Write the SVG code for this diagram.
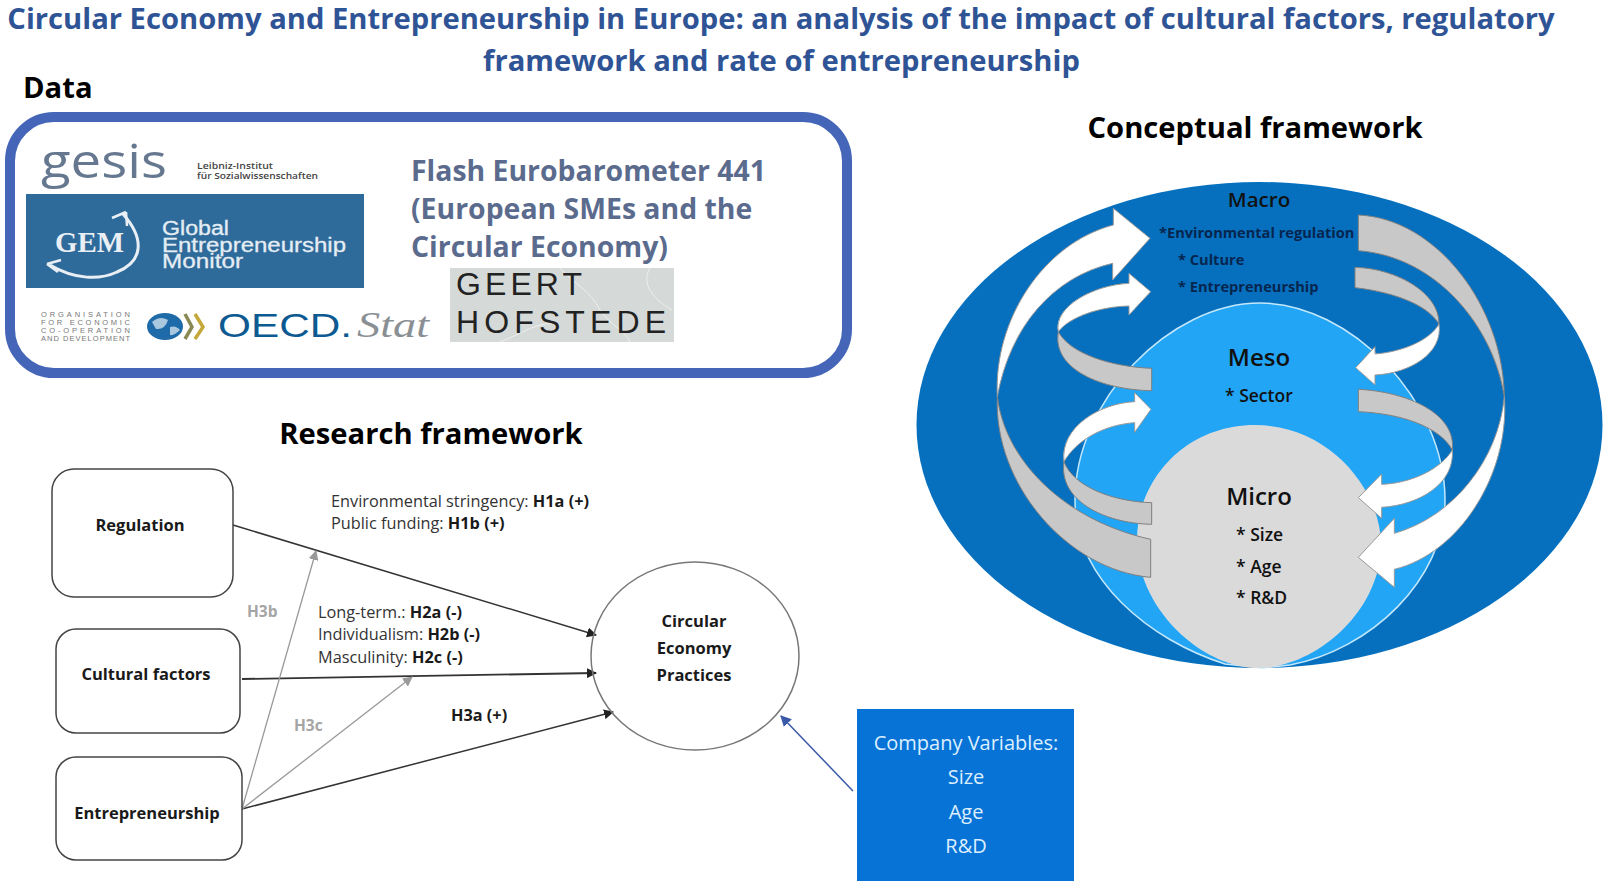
<svg xmlns="http://www.w3.org/2000/svg" width="1606" height="886" viewBox="0 0 1606 886">
<defs>
<marker id="ab" viewBox="0 0 10 10" refX="9" refY="5" markerWidth="10" markerHeight="10" markerUnits="userSpaceOnUse" orient="auto"><path d="M0,0L10,5L0,10Z" fill="#222"/></marker>
<marker id="ag" viewBox="0 0 10 10" refX="9" refY="5" markerWidth="10" markerHeight="10" markerUnits="userSpaceOnUse" orient="auto"><path d="M0,0L10,5L0,10Z" fill="#999"/></marker>
<marker id="ae" viewBox="0 0 10 10" refX="9" refY="5" markerWidth="11" markerHeight="11" markerUnits="userSpaceOnUse" orient="auto"><path d="M0,0L10,5L0,10Z" fill="#3a5aa8"/></marker>
</defs>
<style>
text{font-family:"Open Sans","Noto Sans","Liberation Sans",sans-serif}
.title{font-size:29.2px;font-weight:700;fill:#2f5496;text-anchor:middle}
.h{font-size:29.2px;font-weight:700;fill:#000}
.flash{font-size:28.4px;font-weight:700;fill:#5b6b8e}
.box{fill:#fff;stroke:#444;stroke-width:1.5}
.nt{font-size:16.5px;font-weight:700;fill:#1a1a1a;text-anchor:middle}
.lb{font-size:16.3px;fill:#333}
.lb tspan{font-weight:700;fill:#1a1a1a}
.gl{font-size:15.5px;font-weight:700;fill:#a5a5a5}
.w{fill:#fff;stroke:#999;stroke-width:1}
.g{fill:#c8c8c8;stroke:#808080;stroke-width:1}
.w,.g{vector-effect:non-scaling-stroke}
.big{font-size:24px;font-weight:600;fill:#111;text-anchor:middle}
.mac{font-size:14.6px;font-weight:700;fill:#07264f}
.sm{font-size:17.5px;font-weight:600;fill:#111}
.cv{font-size:20px;fill:#dcefff;text-anchor:middle}
.ar{font-family:"Liberation Sans",Arial,sans-serif}
.se{font-family:"Liberation Serif","Times New Roman",serif}
.gm{font-size:20px;fill:#e4edf4;stroke:#e4edf4;stroke-width:.3}
.oe{font-size:7.5px;fill:#777}
.gh{font-size:32px;fill:#222}
</style>
<rect width="1606" height="886" fill="#fff"/>
<text class="title" x="781" y="29">Circular Economy and Entrepreneurship in Europe: an analysis of the impact of cultural factors, regulatory</text>
<text class="title" x="781.5" y="71">framework and rate of entrepreneurship</text>
<text class="h" x="23" y="98">Data</text>
<text class="h" x="1255" y="138" text-anchor="middle">Conceptual framework</text>
<text class="h" x="431" y="444" text-anchor="middle">Research framework</text>

<g id="data-box">
<rect x="10" y="117" width="837" height="256" rx="44" fill="#fff" stroke="#4566b8" stroke-width="10"/>
<text x="41" y="178" font-size="47" fill="#667790" textLength="126" lengthAdjust="spacingAndGlyphs">gesis</text>
<text x="197" y="169" font-size="8.5" font-weight="600" fill="#444" textLength="76" lengthAdjust="spacingAndGlyphs">Leibniz-Institut</text>
<text x="197" y="179" font-size="8.5" font-weight="600" fill="#444" textLength="121" lengthAdjust="spacingAndGlyphs">für Sozialwissenschaften</text>
<rect x="26" y="194" width="338" height="94" fill="#2f6b9a"/>
<text class="se" x="55" y="252" font-size="29" font-weight="700" fill="#e9eff4" textLength="69" lengthAdjust="spacingAndGlyphs">GEM</text>
<path d="M123,214C146,240 142,262 117,272C100,280 75,280 50,265" fill="none" stroke="#e9eff4" stroke-width="3"/>
<path d="M126,212L112,218M126,212L127,226M47,264L61,260M47,264L58,272" fill="none" stroke="#e9eff4" stroke-width="2.5"/>
<text class="ar gm" x="162" y="235" textLength="67" lengthAdjust="spacingAndGlyphs">Global</text>
<text class="ar gm" x="162" y="252" textLength="184" lengthAdjust="spacingAndGlyphs">Entrepreneurship</text>
<text class="ar gm" x="162" y="268" textLength="81" lengthAdjust="spacingAndGlyphs">Monitor</text>
<text class="flash" x="411" y="181">Flash Eurobarometer 441</text>
<text class="flash" x="411" y="219">(European SMEs and the</text>
<text class="flash" x="411" y="257">Circular Economy)</text>
<text class="ar oe" x="41" y="317" textLength="89">ORGANISATION</text>
<text class="ar oe" x="41" y="325" textLength="89">FOR ECONOMIC</text>
<text class="ar oe" x="41" y="333" textLength="89">CO-OPERATION</text>
<text class="ar oe" x="41" y="341" textLength="89">AND DEVELOPMENT</text>
<ellipse cx="165" cy="326.5" rx="18" ry="13.5" fill="#1f6aa8"/>
<path d="M152,322Q160,315 168,320Q165,330 156,329Z M170,327Q176,325 180,330Q174,336 170,335Z" fill="#a9c8de"/>
<path d="M185,314L192,327L185,339" fill="none" stroke="#8a8a55" stroke-width="3.5"/>
<path d="M195,314L203,327L195,339" fill="none" stroke="#c4a93a" stroke-width="3.5"/>
<text class="ar" x="218" y="337" font-size="33" fill="#0d5a92" textLength="134" lengthAdjust="spacingAndGlyphs">OECD.</text>
<text class="se" x="357" y="337" font-size="35" font-style="italic" fill="#8a8f94" textLength="72" lengthAdjust="spacingAndGlyphs">Stat</text>
<rect x="450" y="268" width="224" height="74" fill="#d5d9d8"/>
<path d="M560,268C575,285 590,290 600,310C610,325 625,330 630,342M650,268C640,285 655,300 672,310M500,342C530,330 540,320 560,325" fill="none" stroke="#eef0ef" stroke-width="1"/>
<text class="ar gh" x="456" y="295" textLength="126">GEERT</text>
<text class="ar gh" x="456" y="333" textLength="210">HOFSTEDE</text>
</g>

<g id="levels">
<ellipse id="macro" cx="1259.5" cy="425" rx="343" ry="243" fill="#0670be"/>
<path id="meso" d="M1260,303C1350,303 1445,400 1445,500C1445,580 1370,650 1290,665L1262,668L1225,664C1150,640 1075,580 1075,500C1075,400 1170,303 1260,303Z" fill="#22a5f5" stroke="#c4e8fb" stroke-width="1.5"/>
<path id="micro" d="M1255,425C1330,425 1381,490 1381,545C1381,600 1335,650 1285,664Q1258,672 1232,664C1185,650 1137,600 1137,540C1137,480 1185,425 1255,425Z" fill="#dadada"/>
<g id="left-arrows" transform="translate(980 200) scale(.33333)">
<path class="g" d="M52,590C75,780 250,960 512,1018L512,1132C260,1110 40,850 52,590Z"/>
<path class="w" d="M52,590C40,360 190,130 400,75L400,25L510,115L398,240L398,190C220,230 90,380 52,590Z"/>
<path class="g" d="M235,395C270,460 390,500 515,505L515,572C370,570 215,510 235,395Z"/>
<path class="w" d="M235,395C220,320 340,255 447,250L447,220L512,275L447,345L447,318C360,320 270,350 235,395Z"/>
<path class="g" d="M252,785C280,860 400,905 515,908L515,973C370,970 235,900 252,785Z"/>
<path class="w" d="M252,785C240,680 360,610 464,605L464,578L513,628L464,697L464,668C370,675 290,720 252,785Z"/>
</g>
<g id="right-arrows" transform="translate(1240 200) scale(.33333)">
<path class="g" d="M355,45C590,55 790,320 793,590C760,380 590,170 355,152Z"/>
<path class="w" d="M793,590C775,780 640,950 463,1000L463,955L355,1072L463,1162L463,1108C660,1060 810,820 793,590Z"/>
<path class="g" d="M345,202C470,205 600,280 597,372C560,310 450,275 345,263Z"/>
<path class="w" d="M597,372C570,420 490,455 405,462L405,440L347,503L405,555L405,525C510,520 610,460 597,372Z"/>
<path class="g" d="M355,568C500,575 650,640 637,750C600,680 480,640 355,635Z"/>
<path class="w" d="M637,750C600,810 510,850 425,853L425,822L355,893L425,955L425,922C540,915 645,850 637,750Z"/>
</g>
<text class="big" x="1259" y="207" style="font-size:20.5px">Macro</text>
<text class="mac" x="1159" y="238">*Environmental regulation</text>
<text class="mac" x="1178" y="265">* Culture</text>
<text class="mac" x="1178" y="292">* Entrepreneurship</text>
<text class="big" x="1259" y="366">Meso</text>
<text class="sm" x="1225" y="402">* Sector</text>
<text class="big" x="1259" y="505">Micro</text>
<text class="sm" x="1236" y="541">* Size</text>
<text class="sm" x="1236" y="573">* Age</text>
<text class="sm" x="1236" y="604">* R&amp;D</text>
</g>

<g id="connectors" fill="none">
<line x1="233" y1="525" x2="596" y2="635" stroke="#333" stroke-width="1.5" marker-end="url(#ab)"/>
<line x1="242" y1="679" x2="596" y2="673" stroke="#333" stroke-width="1.8" marker-end="url(#ab)"/>
<line x1="242" y1="809" x2="613" y2="712" stroke="#333" stroke-width="1.5" marker-end="url(#ab)"/>
<line x1="242" y1="809" x2="316" y2="551" stroke="#999" stroke-width="1.3" marker-end="url(#ag)"/>
<line x1="242" y1="809" x2="412" y2="677" stroke="#999" stroke-width="1.3" marker-end="url(#ag)"/>
<line x1="853" y1="791" x2="781" y2="716" stroke="#3a5aa8" stroke-width="1.5" marker-end="url(#ae)"/>
</g>

<g id="regulation"><rect class="box" x="52" y="469" width="181" height="128" rx="22"/><text class="nt" x="140" y="531">Regulation</text></g>
<g id="cultural-factors"><rect class="box" x="56" y="629" width="184" height="104" rx="20"/><text class="nt" x="146" y="680">Cultural factors</text></g>
<g id="entrepreneurship"><rect class="box" x="56" y="757" width="186" height="103" rx="20"/><text class="nt" x="147" y="819">Entrepreneurship</text></g>
<g id="circular-economy"><ellipse cx="695" cy="656" rx="104" ry="94" fill="none" stroke="#777" stroke-width="1.5"/>
<text class="nt" x="694" y="627">Circular</text><text class="nt" x="694" y="654">Economy</text><text class="nt" x="694" y="681">Practices</text></g>
<g id="company-variables"><rect x="857" y="709" width="217" height="172" fill="#0873d6"/>
<text class="cv" x="966" y="750">Company Variables:</text><text class="cv" x="966" y="784">Size</text><text class="cv" x="966" y="819">Age</text><text class="cv" x="966" y="853">R&amp;D</text></g>

<g id="labels">
<text class="lb" x="331" y="507">Environmental stringency: <tspan>H1a (+)</tspan></text>
<text class="lb" x="331" y="529">Public funding: <tspan>H1b (+)</tspan></text>
<text class="lb" x="318" y="618">Long-term.: <tspan>H2a (-)</tspan></text>
<text class="lb" x="318" y="640">Individualism: <tspan>H2b (-)</tspan></text>
<text class="lb" x="318" y="663">Masculinity: <tspan>H2c (-)</tspan></text>
<text class="gl" x="247" y="617">H3b</text>
<text class="gl" x="294" y="731">H3c</text>
<text class="lb" x="451" y="721"><tspan>H3a (+)</tspan></text>
</g>
</svg>
